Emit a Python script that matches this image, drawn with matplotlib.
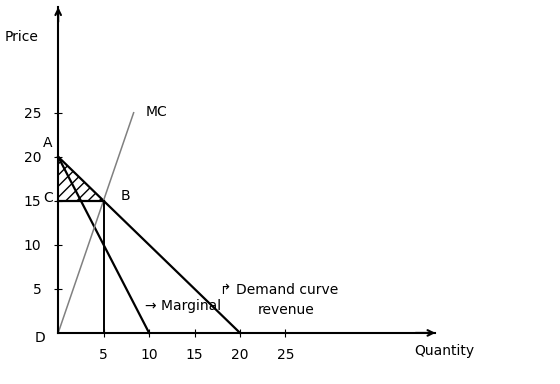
import matplotlib.pyplot as plt

# valores do esboço (monopólio)
q_demanda = [0, 20]
p_demanda = [20, 0]
q_rmg = [0, 10]
p_rmg = [20, 0]
q_cmg = [0, 8.3]
p_cmg = [0, 25]
q_eq = 5
p_eq = 15
x_ticks = [5, 10, 15, 20, 25]
y_ticks = [5, 10, 15, 20, 25]

fig = plt.figure(figsize=(5.6, 3.84), dpi=100)
ax = fig.add_axes([0, 0, 1, 1])
ax.set_xlim(-6.4, 55.2)
ax.set_ylim(-5.8, 37.8)

# eixos no zero, com setas
for s in ['top', 'right']:
    ax.spines[s].set_visible(False)
ax.spines['left'].set_position(('data', 0))
ax.spines['bottom'].set_position(('data', 0))
ax.spines['left'].set_bounds(0, 37)
ax.spines['bottom'].set_bounds(0, 41.5)
ax.spines['left'].set_linewidth(1.5)
ax.spines['bottom'].set_linewidth(1.5)
ax.annotate('', xy=(0, 37.3), xytext=(0, 35), arrowprops=dict(arrowstyle='->', lw=1.5))
ax.annotate('', xy=(41.8, 0), xytext=(39, 0), arrowprops=dict(arrowstyle='->', lw=1.5))

ax.set_xticks(x_ticks)
ax.set_yticks(y_ticks)
ax.tick_params(axis='x', direction='inout', length=6, pad=8, labelsize=10)
ax.tick_params(axis='y', direction='inout', length=6, pad=9, labelsize=10)

# curvas
ax.plot(q_demanda, p_demanda, color='black', lw=1.6)
ax.plot(q_rmg, p_rmg, color='black', lw=1.6)
ax.plot(q_cmg, p_cmg, color='#808080', lw=1.1)

# linhas do equilíbrio
ax.plot([0, q_eq], [p_eq, p_eq], color='black', lw=1.6)
ax.plot([q_eq, q_eq], [0, p_eq], color='black', lw=1.4)

# área hachurada (excedente do consumidor)
plt.rcParams['hatch.linewidth'] = 1.0
ax.fill([0, 0, q_eq], [p_demanda[0], p_eq, p_eq], facecolor='none', edgecolor='black',
        hatch='///', lw=0)

# rótulos
ax.text(-1.2, 21.6, 'A', fontsize=10, ha='center', va='center')
ax.text(7.4, 15.6, 'B', fontsize=10, ha='center', va='center')
ax.text(-0.6, 15.3, 'C', fontsize=10, ha='right', va='center')
ax.text(-2.0, -0.6, 'D', fontsize=10, ha='center', va='center')
ax.text(10.8, 25.1, 'MC', fontsize=10, ha='center', va='center')
ax.text(-4.0, 33.6, 'Price', fontsize=10, ha='center', va='center')
ax.text(42.5, -2.0, 'Quantity', fontsize=10, ha='center', va='center')
ax.text(9.6, 3.0, '→ Marginal', fontsize=10, ha='left', va='center')
ax.text(17.8, 4.9, '↱ Demand curve', fontsize=10, ha='left', va='center')
ax.text(22.0, 2.6, 'revenue', fontsize=10, ha='left', va='center')

plt.savefig('out.png', dpi=100)
